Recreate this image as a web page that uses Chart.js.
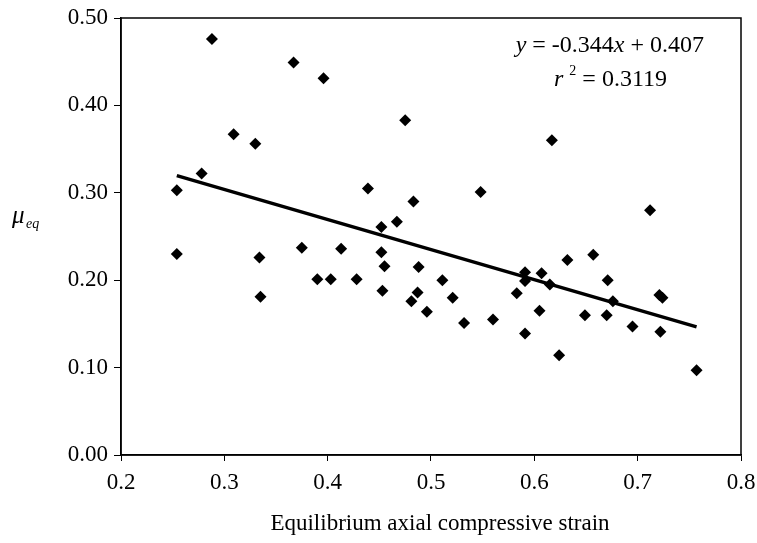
<!DOCTYPE html>
<html>
<head>
<meta charset="utf-8">
<script src="https://cdn.jsdelivr.net/npm/chart.js@4.4.1/dist/chart.umd.min.js"></script>
<style>
  html, body { margin: 0; padding: 0; background: #fff; }
  #wrap { width: 757px; height: 543px; }
</style>
</head>
<body>
<div id="wrap"><canvas id="chart" width="757" height="543"></canvas></div>
<script>
// strain (x) and friction coefficient (y)
var strain = [0.254, 0.254, 0.278, 0.288, 0.309, 0.330, 0.334, 0.335, 0.367, 0.375,
    0.390, 0.396, 0.403, 0.413, 0.428, 0.439, 0.452, 0.452, 0.455, 0.453,
    0.467, 0.475, 0.483, 0.481, 0.487, 0.488, 0.496, 0.511, 0.521, 0.532,
    0.548, 0.560, 0.583, 0.591, 0.591, 0.591, 0.605, 0.607, 0.615, 0.617,
    0.624, 0.632, 0.649, 0.657, 0.670, 0.671, 0.676, 0.695, 0.712, 0.721,
    0.724, 0.722, 0.757];
var mu = [0.303, 0.230, 0.322, 0.476, 0.367, 0.356, 0.226, 0.181, 0.449, 0.237,
    0.201, 0.431, 0.201, 0.236, 0.201, 0.305, 0.261, 0.232, 0.216, 0.188,
    0.267, 0.383, 0.290, 0.176, 0.186, 0.215, 0.164, 0.200, 0.180, 0.151,
    0.301, 0.155, 0.185, 0.209, 0.199, 0.139, 0.165, 0.208, 0.195, 0.360,
    0.114, 0.223, 0.160, 0.229, 0.160, 0.200, 0.176, 0.147, 0.280, 0.183,
    0.180, 0.141, 0.097];

// regression from the figure
var slope = -0.344;
var intercept = 0.407;
var fitRange = [0.254, 0.757];

var xTicks = [0.2, 0.8, 0.1];
var yTicks = [0, 0.5, 0.1];
var xTitle = 'Equilibrium axial compressive strain';

var serif = "'Liberation Serif', 'DejaVu Serif', serif";

var points = [];
for (let i = 0; i < strain.length; i++) {
    points.push({ x: strain[i], y: mu[i] });
}
var fitLine = fitRange.map(function (x) { return { x: x, y: slope * x + intercept }; });

// frame + text that Chart.js can't place by itself
const extras = {
    id: 'extras',
    afterDraw(chart) {
        const ctx = chart.ctx;
        const a = chart.chartArea;
        ctx.save();
        ctx.strokeStyle = '#000';
        ctx.lineWidth = 1.5;
        ctx.strokeRect(a.left, a.top, a.right - a.left, a.bottom - a.top);

        ctx.fillStyle = '#000';
        ctx.textBaseline = 'alphabetic';

        // x axis title (sits a bit right of the plot centre in the original)
        ctx.font = '23px ' + serif;
        ctx.textAlign = 'center';
        ctx.fillText(xTitle, 440, 530);

        // y axis title: mu_eq
        ctx.font = 'italic 25px ' + serif;
        ctx.textAlign = 'left';
        ctx.fillText('\u03bc', 12, 223);
        ctx.font = 'italic 14px ' + serif;
        ctx.fillText('eq', 26, 228);

        // equation
        const eq = [
            ['italic', 'y'], ['', ' = -0.344'], ['italic', 'x'], ['', ' + 0.407']
        ];
        drawRuns(ctx, eq, 704, 52, 24);
        // r^2
        let x = 554;
        ctx.textAlign = 'left';
        ctx.font = 'italic 24px ' + serif;
        ctx.fillText('r', x, 86);
        x += ctx.measureText('r ').width;
        ctx.font = '14px ' + serif;
        ctx.fillText('2', x, 75);
        x += ctx.measureText('2').width;
        ctx.font = '24px ' + serif;
        ctx.fillText(' = 0.3119', x, 86);
        ctx.restore();
    }
};

function drawRuns(ctx, runs, right, y, size) {
    let w = 0;
    runs.forEach(function (r) {
        ctx.font = (r[0] ? r[0] + ' ' : '') + size + 'px ' + serif;
        w += ctx.measureText(r[1]).width;
    });
    let x = right - w;
    ctx.textAlign = 'left';
    runs.forEach(function (r) {
        ctx.font = (r[0] ? r[0] + ' ' : '') + size + 'px ' + serif;
        ctx.fillText(r[1], x, y);
        x += ctx.measureText(r[1]).width;
    });
}

new Chart(document.getElementById('chart'), {
    type: 'scatter',
    data: {
        datasets: [{
            data: fitLine,
            showLine: true,
            borderColor: '#000',
            borderWidth: 3.5,
            pointRadius: 0,
            order: 0
        }, {
            data: points,
            pointStyle: 'rectRot',
            pointRadius: 6,
            pointBackgroundColor: '#000',
            pointBorderColor: '#000',
            pointBorderWidth: 0,
            order: 1
        }]
    },
    options: {
        responsive: false,
        animation: false,
        layout: { padding: { left: 0, right: 16, top: 18, bottom: 0 } },
        plugins: {
            legend: { display: false },
            tooltip: { enabled: false }
        },
        scales: {
            x: {
                type: 'linear',
                min: xTicks[0],
                max: xTicks[1],
                afterFit: function (s) {
                    s.height = 88;
                    s.paddingLeft = 0;
                    s.paddingRight = 0;
                },
                ticks: {
                    stepSize: xTicks[2],
                    color: '#000',
                    padding: 8,
                    font: { family: serif, size: 23 },
                    callback: function (v) { return v.toFixed(1); }
                },
                grid: { drawOnChartArea: false, color: '#000', tickLength: 6, lineWidth: 1 },
                border: { color: '#000', width: 1.5 }
            },
            y: {
                type: 'linear',
                min: yTicks[0],
                max: yTicks[1],
                afterFit: function (s) {
                    s.width = 121;
                    s.paddingTop = 0;
                    s.paddingBottom = 0;
                },
                ticks: {
                    stepSize: yTicks[2],
                    color: '#000',
                    padding: 6,
                    font: { family: serif, size: 23 },
                    callback: function (v) { return v.toFixed(2); }
                },
                grid: { drawOnChartArea: false, color: '#000', tickLength: 7, lineWidth: 1 },
                border: { color: '#000', width: 1.5 }
            }
        }
    },
    plugins: [extras]
});
</script>
</body>
</html>
